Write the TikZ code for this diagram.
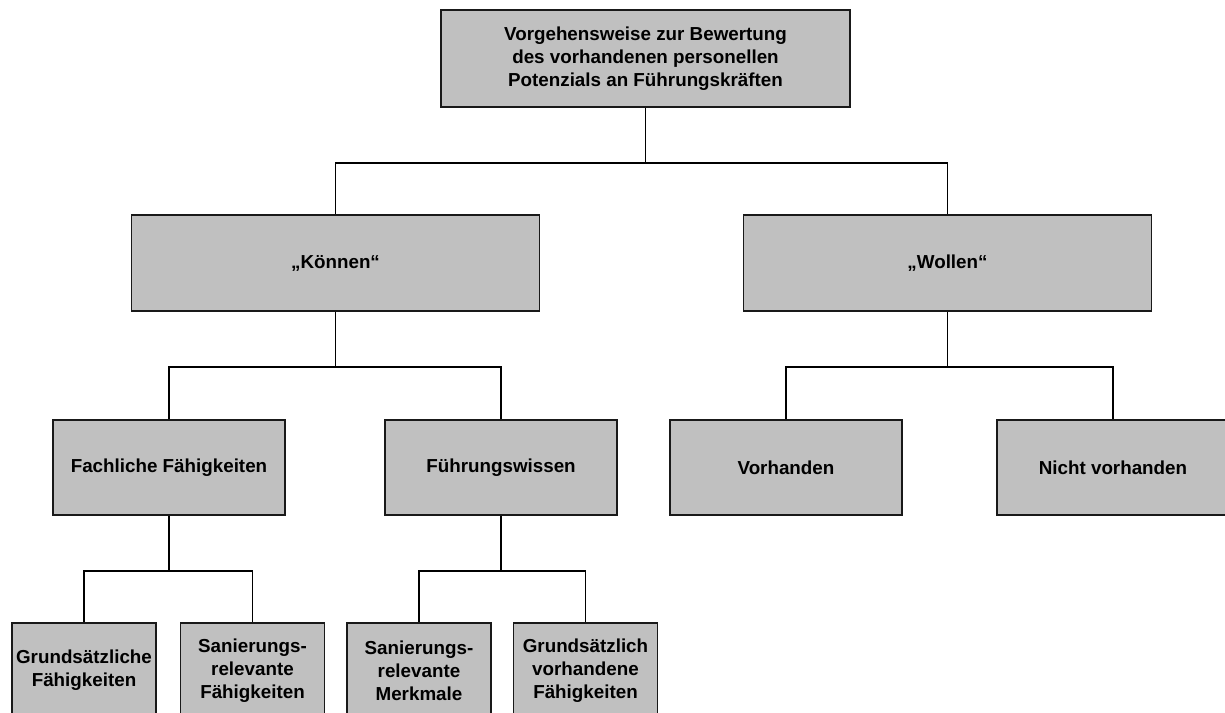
\documentclass[tikz,border=0pt]{standalone}
\usepackage{fontspec}
\setmainfont{Liberation Sans}
\usetikzlibrary{positioning}

\definecolor{boxgray}{RGB}{192,192,192}

\newcommand{\unitpx}{*0.02cm}
\tikzset{
  box/.style={draw=black!90, fill=boxgray, line width=1.1pt, align=center,
    inner sep=1pt, font=\fontsize{10.7}{13.2}\selectfont\bfseries},
  bigbox/.style={box, minimum width=408\unitpx, minimum height=96\unitpx},
  midbox/.style={box, minimum width=232\unitpx, minimum height=95\unitpx},
  smallbox/.style={box, minimum width=144\unitpx, minimum height=95\unitpx},
  conn/.style={line width=1.05pt}
}

\begin{document}
\begin{tikzpicture}[x=0.02cm, y=-0.02cm]
\useasboundingbox (0,0) rectangle (1225,713);
\clip (0,0) rectangle (1225,713);

\def\drop{55}

% level 0
\node[bigbox, minimum width=409\unitpx, minimum height=97\unitpx] (top) at (645.5,58.5)
  {Vorgehensweise zur Bewertung\\des vorhandenen personellen\\Potenzials an Führungskräften};

% level 1
\node[bigbox] (kon) at (335.5,263) {„Können“};
\node[bigbox] (wol) at (947.5,263) {„Wollen“};

% level 2
\node[midbox] (fach)  at (169,467.5)  {Fachliche Fähigkeiten};
\node[midbox] (fuehr) at (501,467.5)  {Führungswissen};
\node[midbox] (vorh)  at (786,467.5)  {Vorhanden};
\node[midbox] (nicht) at (1113,467.5) {Nicht vorhanden};

% level 3
\node[smallbox] (grund)  at (84,670.5)    {Grundsätzliche\\Fähigkeiten};
\node[smallbox] (sanfa)  at (252.5,670.5) {Sanierungs-\\relevante\\Fähigkeiten};
\node[smallbox] (sanme)  at (419,670.5)   {Sanierungs-\\relevante\\Merkmale};
\node[smallbox] (grvor)  at (585.5,670.5) {Grundsätzlich\\vorhandene\\Fähigkeiten};

% connectors
\foreach \p/\a/\b in {top/kon/wol, kon/fach/fuehr, wol/vorh/nicht,
                      fach/grund/sanfa, fuehr/sanme/grvor} {
  \draw[conn] (\p.south) -- ++(0,\drop) coordinate (\p-bus);
  \draw[conn] (\p-bus) -| (\a.north);
  \draw[conn] (\p-bus) -| (\b.north);
}
\end{tikzpicture}
\end{document}
